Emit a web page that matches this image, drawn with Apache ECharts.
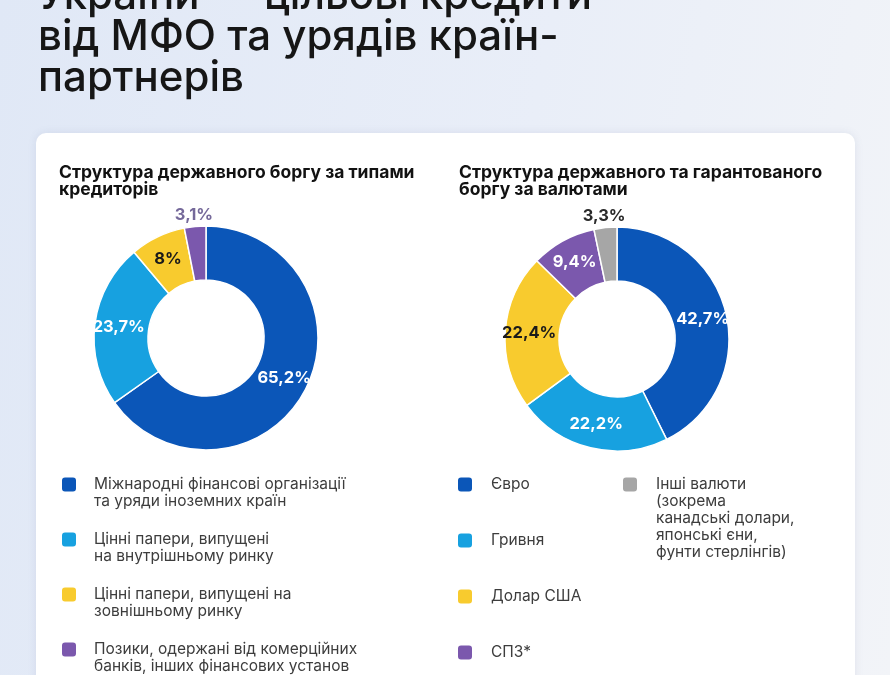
<!DOCTYPE html>
<html>
<head>
<meta charset="utf-8">
<script src="https://cdn.jsdelivr.net/npm/echarts@6/dist/echarts.min.js"></script>
<style>
html,body{margin:0;padding:0;width:890px;height:675px;overflow:hidden;}
#c{width:890px;height:675px;background:linear-gradient(100deg,#e0e8f6 0%,#e9eef8 55%,#f2f4f8 100%);}
</style>
</head>
<body>
<div id="c"></div>
<script>
// ---- data ----
const titleLines = ['України — цільові кредити', 'від МФО та урядів країн-', 'партнерів'];
const leftSubtitle = 'Структура державного боргу за типами\nкредиторів';
const rightSubtitle = 'Структура державного та гарантованого\nборгу за валютами';

const creditorCategories = [
  'Міжнародні фінансові організації\nта уряди іноземних країн',
  'Цінні папери, випущені\nна внутрішньому ринку',
  'Цінні папери, випущені на\nзовнішньому ринку',
  'Позики, одержані від комерційних\nбанків, інших фінансових установ'
];
const creditorValues = [65.2, 23.7, 8, 3.1];

const currencyCategories = [
  'Євро',
  'Гривня',
  'Долар США',
  'СПЗ*',
  'Інші валюти\n(зокрема\nканадські долари,\nяпонські єни,\nфунти стерлінгів)'
];
const currencyValues = [42.7, 22.2, 22.4, 9.4, 3.3];

// ---- styling ----
const creditorColors = ['#0b56b8', '#17a1e0', '#f8cb2e', '#7b58ad'];
const creditorLabelColors = ['#ffffff', '#ffffff', '#1a1a1a', '#75699a'];
const currencyColors = ['#0b56b8', '#17a1e0', '#f8cb2e', '#7b58ad', '#a6a6a6'];
const currencyLabelColors = ['#ffffff', '#ffffff', '#1a1a1a', '#ffffff', '#2a2a2a'];
const outsideThreshold = 5; // slices below this % get their label outside the ring

const fmt = v => String(v).replace('.', ',') + '%';
const labelFont = {fontFamily: 'Inter', fontWeight: 700, fontSize: 16.5};

function mainData(cats, vals, colors, lcolors) {
  return cats.map((n, i) => ({
    name: n, value: vals[i],
    itemStyle: {color: colors[i]},
    label: {show: vals[i] >= outsideThreshold, color: lcolors[i]}
  }));
}
function ringData(cats, vals, lcolors) {
  return cats.map((n, i) => ({
    name: n, value: vals[i],
    label: {show: vals[i] < outsideThreshold, color: lcolors[i]}
  }));
}

// legend icon: rounded square at top-left of a larger (invisible) box
function iconPath(w, h) {
  return 'path://M3,0L11,0Q14,0 14,3L14,11Q14,14 11,14L3,14Q0,14 0,11L0,3Q0,0 3,0Z' +
         'M' + w + ',' + h + 'L' + (w - 0.01) + ',' + h;
}

const chart = echarts.init(document.getElementById('c'), null, {renderer: 'canvas'});

const legendText = {fontFamily: 'Inter', fontSize: 15.5, color: '#3d3d3d', lineHeight: 17};

chart.setOption({
  backgroundColor: 'transparent',
  graphic: [{
    type: 'rect', z: -10, silent: true,
    shape: {x: 36, y: 133, width: 819, height: 620, r: 10},
    style: {fill: '#ffffff', shadowBlur: 8, shadowColor: 'rgba(90,110,150,0.12)'}
  }],
  title: [
    {
      text: titleLines.join('\n'), left: 33, top: -29,
      textStyle: {fontFamily: 'Inter', fontWeight: 500, fontSize: 42, lineHeight: 41, color: '#161616'}
    },
    {
      text: leftSubtitle, left: 59, top: 164, padding: 0,
      textStyle: {fontFamily: 'Inter', fontWeight: 700, fontSize: 17.5, lineHeight: 17, color: '#121212'}
    },
    {
      text: rightSubtitle, left: 459, top: 164, padding: 0,
      textStyle: {fontFamily: 'Inter', fontWeight: 700, fontSize: 17.5, lineHeight: 17, color: '#121212'}
    }
  ],
  legend: [
    {
      orient: 'vertical', left: 62, top: 476, padding: 0,
      data: creditorCategories, icon: iconPath(27, 31),
      itemWidth: 27, itemHeight: 31, itemGap: 21,
      itemStyle: {borderWidth: 0},
      textStyle: legendText, selectedMode: false
    },
    {
      orient: 'vertical', left: 458, top: 476, padding: 0,
      data: currencyCategories.slice(0, 4), icon: iconPath(28, 14),
      itemWidth: 28, itemHeight: 14, itemGap: 39,
      itemStyle: {borderWidth: 0},
      textStyle: legendText, selectedMode: false
    },
    {
      orient: 'vertical', left: 623, top: 476, padding: 0,
      data: currencyCategories.slice(4), icon: iconPath(28, 82),
      itemWidth: 28, itemHeight: 82,
      itemStyle: {borderWidth: 0},
      textStyle: legendText, selectedMode: false
    }
  ],
  series: [
    {
      type: 'pie', center: [206, 338], radius: [58, 112], startAngle: 90,
      avoidLabelOverlap: false, silent: true,
      itemStyle: {borderColor: '#ffffff', borderWidth: 1.5},
      label: Object.assign({position: 'inside', formatter: p => fmt(p.value)}, labelFont),
      labelLine: {show: false},
      data: mainData(creditorCategories, creditorValues, creditorColors, creditorLabelColors)
    },
    {
      type: 'pie', center: [617, 339], radius: [58, 112], startAngle: 90,
      avoidLabelOverlap: false, silent: true,
      itemStyle: {borderColor: '#ffffff', borderWidth: 1.5},
      label: Object.assign({position: 'inside', formatter: p => fmt(p.value)}, labelFont),
      labelLine: {show: false},
      data: mainData(currencyCategories, currencyValues, currencyColors, currencyLabelColors)
    },
    {
      type: 'pie', center: [206, 338], radius: [112, 130], startAngle: 90,
      avoidLabelOverlap: false, silent: true,
      itemStyle: {color: 'rgba(0,0,0,0)', borderWidth: 0},
      label: Object.assign({position: 'inside', formatter: p => fmt(p.value)}, labelFont),
      labelLine: {show: false},
      data: ringData(creditorCategories, creditorValues, creditorLabelColors)
    },
    {
      type: 'pie', center: [617, 339], radius: [112, 130], startAngle: 90,
      avoidLabelOverlap: false, silent: true,
      itemStyle: {color: 'rgba(0,0,0,0)', borderWidth: 0},
      label: Object.assign({position: 'inside', formatter: p => fmt(p.value)}, labelFont),
      labelLine: {show: false},
      data: ringData(currencyCategories, currencyValues, currencyLabelColors)
    }
  ]
});
</script>
</body>
</html>
